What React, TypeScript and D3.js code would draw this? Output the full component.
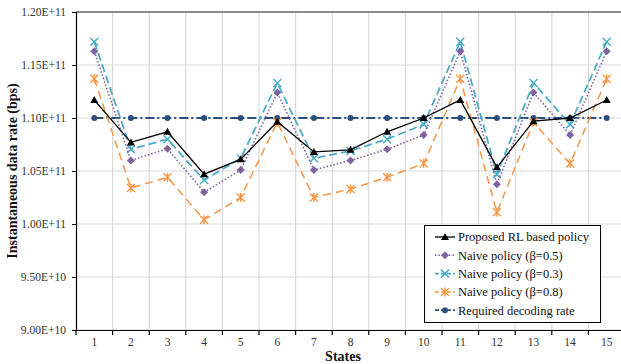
import React, { useEffect, useRef } from 'react';
import * as d3 from 'd3';

const states = ['1', '2', '3', '4', '5', '6', '7', '8', '9', '10', '11', '12', '13', '14', '15'];

// values in units of 1e11 bps
const proposedRL = [1.117, 1.077, 1.087, 1.047, 1.061, 1.0965, 1.068, 1.070, 1.087, 1.100, 1.117, 1.0535, 1.097, 1.100, 1.117];
const naive05 = [1.163, 1.060, 1.071, 1.030, 1.051, 1.124, 1.051, 1.060, 1.0705, 1.084, 1.163, 1.0375, 1.124, 1.084, 1.163];
const naive03 = [1.172, 1.0705, 1.080, 1.0415, 1.062, 1.133, 1.062, 1.069, 1.080, 1.094, 1.172, 1.047, 1.133, 1.094, 1.172];
const naive08 = [1.137, 1.034, 1.044, 1.004, 1.025, 1.096, 1.025, 1.033, 1.044, 1.057, 1.137, 1.011, 1.096, 1.057, 1.137];
const required = [1.10, 1.10, 1.10, 1.10, 1.10, 1.10, 1.10, 1.10, 1.10, 1.10, 1.10, 1.10, 1.10, 1.10, 1.10];

const yTicks = [0.90, 0.95, 1.00, 1.05, 1.10, 1.15, 1.20];

interface Series {
  name: string;
  values: number[];
  color: string;
  dash: string;
  width: number;
  marker: 'triangle' | 'diamond' | 'x' | 'star' | 'circle';
}

const series: Series[] = [
  { name: 'Required decoding rate', values: required, color: '#2b4f7e', dash: '9,3,2,3', width: 1.8, marker: 'circle' },
  { name: 'Naive policy (\u03b2=0.8)', values: naive08, color: '#f79646', dash: '8,5', width: 1.5, marker: 'star' },
  { name: 'Naive policy (\u03b2=0.3)', values: naive03, color: '#4bacc6', dash: '8,4', width: 1.8, marker: 'x' },
  { name: 'Naive policy (\u03b2=0.5)', values: naive05, color: '#8064a2', dash: '1.5,2', width: 1.6, marker: 'diamond' },
  { name: 'Proposed RL based policy', values: proposedRL, color: '#000000', dash: '', width: 1.3, marker: 'triangle' },
];

const legendOrder = [4, 3, 2, 1, 0];

const fmtSci = (v: number) => {
  const full = v * 1e11;
  const e = Math.floor(Math.log10(full) + 1e-9);
  const m = full / Math.pow(10, e);
  return `${m.toFixed(2)}E+${e}`;
};

function drawMarker(g: d3.Selection<SVGGElement, unknown, null, undefined>, type: Series['marker'], cx: number, cy: number, color: string) {
  if (type === 'triangle') {
    g.append('path').attr('d', `M${cx},${cy - 4}L${cx + 4},${cy + 3}L${cx - 4},${cy + 3}Z`).attr('fill', color);
  } else if (type === 'diamond') {
    g.append('path').attr('d', `M${cx},${cy - 4}L${cx + 4},${cy}L${cx},${cy + 4}L${cx - 4},${cy}Z`).attr('fill', color);
  } else if (type === 'circle') {
    g.append('circle').attr('cx', cx).attr('cy', cy).attr('r', 3).attr('fill', color);
  } else if (type === 'x') {
    g.append('path').attr('d', `M${cx - 4},${cy - 4}L${cx + 4},${cy + 4}M${cx - 4},${cy + 4}L${cx + 4},${cy - 4}`)
      .attr('stroke', color).attr('stroke-width', 1.5).attr('fill', 'none');
  } else if (type === 'star') {
    g.append('path').attr('d', `M${cx - 4},${cy - 4}L${cx + 4},${cy + 4}M${cx - 4},${cy + 4}L${cx + 4},${cy - 4}M${cx},${cy - 4.5}L${cx},${cy + 4.5}`)
      .attr('stroke', color).attr('stroke-width', 1.4).attr('fill', 'none');
  }
}

const FONT = "'Liberation Serif', 'DejaVu Serif', 'Times New Roman', serif";

const App: React.FC = () => {
  const ref = useRef<SVGSVGElement>(null);

  useEffect(() => {
    if (!ref.current) return;
    const svg = d3.select(ref.current);
    svg.selectAll('*').remove();

    const left = 76, right = 625, top = 12, bottom = 330;
    const x = d3.scaleBand<string>().domain(states).range([left, right]);
    const y = d3.scaleLinear().domain([0.9, 1.2]).range([bottom, top]);

    // grid
    const grid = svg.append('g');
    yTicks.forEach(t => {
      grid.append('line').attr('x1', left).attr('x2', right).attr('y1', y(t)).attr('y2', y(t))
        .attr('stroke', '#d9d9d9').attr('stroke-width', 1.2);
    });
    states.forEach(s => {
      const xv = (x(s) as number) + x.bandwidth();
      grid.append('line').attr('x1', xv).attr('x2', xv).attr('y1', top).attr('y2', bottom)
        .attr('stroke', '#d9d9d9').attr('stroke-width', 1.2);
    });
    // top border
    svg.append('line').attr('x1', left).attr('x2', right).attr('y1', top).attr('y2', top)
      .attr('stroke', '#8c8c8c').attr('stroke-width', 2);

    // axes
    const yAxis = svg.append('g').attr('transform', `translate(${left},0)`)
      .call(d3.axisLeft(y).tickValues(yTicks).tickSize(4).tickPadding(6).tickFormat(d => fmtSci(d as number)));
    yAxis.attr('font-family', null);
    yAxis.select('.domain').attr('stroke', '#000').attr('stroke-width', 1.2);
    yAxis.selectAll('.tick line').attr('stroke', '#000');
    yAxis.selectAll('text').style('font-family', FONT).style('font-size', '11.5px').attr('fill', '#333');

    const xAxis = svg.append('g').attr('transform', `translate(0,${bottom})`)
      .call(d3.axisBottom(x).tickSize(0).tickPadding(8));
    xAxis.attr('font-family', null);
    xAxis.select('.domain').attr('stroke', '#000').attr('stroke-width', 1.2);
    xAxis.selectAll('text').style('font-family', FONT).style('font-size', '11.5px').attr('fill', '#333');
    states.forEach(s => {
      const xv = x(s) as number;
      svg.append('line').attr('x1', xv).attr('x2', xv).attr('y1', bottom).attr('y2', bottom + 5)
        .attr('stroke', '#000').attr('stroke-width', 1.2);
    });

    // axis titles
    svg.append('text').attr('transform', `translate(17,${(top + bottom) / 2}) rotate(-90)`)
      .attr('text-anchor', 'middle').style('font-family', FONT).attr('font-weight', 'bold')
      .style('font-size', '14px').attr('fill', '#111').text('Instantaneous data rate (bps)');
    svg.append('text').attr('x', 343).attr('y', 361)
      .attr('text-anchor', 'middle').style('font-family', FONT).attr('font-weight', 'bold')
      .style('font-size', '14px').attr('fill', '#111').text('States');

    // series
    const cx = (i: number) => (x(states[i]) as number) + x.bandwidth() / 2;
    const line = d3.line<number>().x((_, i) => cx(i)).y(d => y(d));
    series.forEach(s => {
      const g = svg.append('g');
      g.append('path').datum(s.values).attr('d', line).attr('fill', 'none')
        .attr('stroke', s.color).attr('stroke-width', s.width)
        .attr('stroke-dasharray', s.dash || null);
      s.values.forEach((v, i) => drawMarker(g, s.marker, cx(i), y(v), s.color));
    });

    // legend
    const lg = svg.append('g');
    lg.append('rect').attr('x', 424.5).attr('y', 225.5).attr('width', 176).attr('height', 97)
      .attr('fill', '#fff').attr('stroke', '#000').attr('stroke-width', 1);
    legendOrder.forEach((si, r) => {
      const s = series[si];
      const ly = 237 + r * 18.3;
      lg.append('line').attr('x1', 435).attr('x2', 455).attr('y1', ly).attr('y2', ly)
        .attr('stroke', s.color).attr('stroke-width', s.width)
        .attr('stroke-dasharray', s.dash ? (s.marker === 'diamond' ? '1.5,2' : '4,2') : null);
      drawMarker(lg, s.marker, 445, ly, s.color);
      lg.append('text').attr('x', 458).attr('y', ly).attr('dy', '0.35em')
        .style('font-family', FONT).style('font-size', '12.5px').attr('fill', '#111').text(s.name);
    });
  }, []);

  return (
    <svg ref={ref} width={621} height={364}
      style={{ position: 'absolute', left: 0, top: 0, background: '#fff' }} />
  );
};

export default App;
